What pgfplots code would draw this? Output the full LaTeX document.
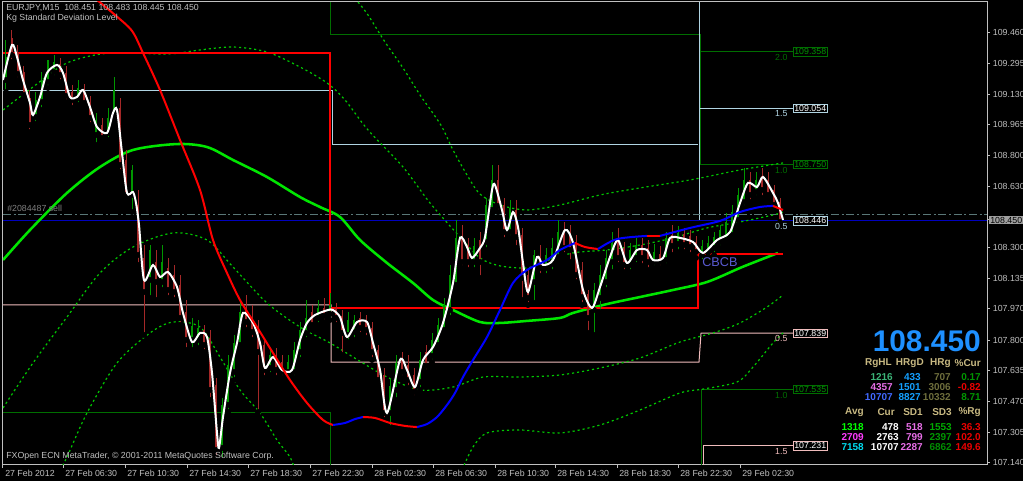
\documentclass[border=0pt]{standalone}
\usepackage{pgfplots}
\pgfplotsset{compat=1.18}
\usepackage{pgfplotstable}
\usepackage{fontspec}
\setmainfont{Liberation Sans}

\definecolor{mtgray}{RGB}{192,192,192}
\definecolor{lvblue}{RGB}{176,212,226}
\definecolor{lvpink}{RGB}{240,188,188}
\definecolor{lvgreen}{RGB}{0,110,0}
\definecolor{cG}{RGB}{0,150,0}
\definecolor{cR}{RGB}{165,40,40}
\definecolor{band}{RGB}{0,200,0}
\definecolor{midg}{RGB}{0,230,0}
\definecolor{navyline}{RGB}{0,0,190}
\definecolor{dashdot}{RGB}{90,120,120}
\definecolor{bignum}{RGB}{30,144,255}
\definecolor{tanhd}{RGB}{200,185,130}
\definecolor{olivegr}{RGB}{110,110,60}
\definecolor{pgreen}{RGB}{0,150,0}
\definecolor{pred}{RGB}{235,0,0}
\definecolor{pviolet}{RGB}{230,110,230}
\definecolor{psky}{RGB}{20,160,255}
\definecolor{cbcb}{RGB}{90,90,210}

\newcommand\fs{\fontsize{6.6}{7.8}\selectfont}
\newcommand\fp{\fontsize{7.5}{9}\selectfont\bfseries}

% candles: x, low, high, body bottom, body top
\pgfplotstableread{
x lo hi bot top
6 109.141 109.422 109.206 109.330
36 108.968 109.141 109.006 109.098
42 109.044 109.249 109.087 109.206
48 109.163 109.314 109.195 109.271
54 109.217 109.341 109.249 109.303
78 109.071 109.206 109.109 109.163
96 108.855 109.028 108.909 108.990
108 108.882 109.055 108.920 109.001
114 108.990 109.222 109.017 109.152
132 108.493 108.747 108.585 108.720
150 108.029 108.315 108.126 108.288
162 108.072 108.315 108.115 108.223
192 107.748 107.921 107.802 107.878
198 107.759 107.910 107.802 107.867
222 107.154 107.489 107.219 107.451
228 107.413 107.721 107.451 107.667
234 107.586 107.829 107.629 107.786
240 107.748 108.018 107.775 107.953
270 107.613 107.759 107.651 107.721
288 107.597 107.721 107.629 107.683
294 107.597 107.791 107.629 107.748
300 107.694 107.899 107.737 107.856
306 107.802 108.018 107.840 107.921
318 107.883 108.018 107.921 107.975
330 107.910 108.056 107.942 107.991
348 107.791 107.953 107.829 107.910
354 107.802 107.937 107.845 107.910
390 107.327 107.597 107.408 107.554
396 107.478 107.721 107.532 107.678
420 107.532 107.737 107.575 107.694
432 107.683 107.840 107.716 107.802
438 107.748 107.921 107.775 107.883
444 107.829 108.029 107.856 107.991
450 107.921 108.207 107.964 108.153
456 108.072 108.450 108.099 108.353
474 108.180 108.353 108.223 108.310
486 108.288 108.569 108.331 108.531
492 108.477 108.747 108.504 108.666
510 108.353 108.558 108.385 108.515
534 108.002 108.288 108.115 108.261
546 108.148 108.299 108.191 108.261
552 108.169 108.353 108.212 108.299
558 108.223 108.450 108.250 108.385
594 107.829 108.110 107.964 108.072
600 107.953 108.207 108.029 108.153
606 108.072 108.288 108.115 108.245
612 108.169 108.385 108.223 108.326
630 108.169 108.326 108.207 108.288
636 108.207 108.353 108.245 108.315
654 108.191 108.320 108.223 108.277
666 108.202 108.385 108.234 108.353
678 108.277 108.418 108.320 108.380
702 108.223 108.342 108.261 108.310
708 108.245 108.364 108.272 108.326
714 108.261 108.385 108.299 108.358
720 108.299 108.423 108.331 108.396
726 108.315 108.488 108.342 108.439
732 108.342 108.531 108.369 108.493
738 108.423 108.623 108.450 108.585
744 108.515 108.731 108.547 108.666
756 108.569 108.709 108.601 108.666
}\candG

\pgfplotstableread{
x lo hi bot top
12 109.303 109.476 109.341 109.433
18 109.206 109.395 109.238 109.357
24 109.098 109.282 109.125 109.249
30 108.925 109.152 108.963 109.109
60 109.195 109.325 109.233 109.292
66 109.087 109.282 109.120 109.244
72 109.055 109.179 109.098 109.141
84 109.055 109.184 109.082 109.152
90 108.963 109.120 109.001 109.087
102 108.866 109.001 108.893 108.963
120 108.709 109.109 108.747 109.055
126 108.558 108.828 108.585 108.774
138 108.207 108.612 108.261 108.531
144 107.829 108.315 108.061 108.245
156 108.018 108.288 108.115 108.223
168 108.029 108.245 108.072 108.191
174 108.018 108.207 108.061 108.153
180 107.883 108.153 107.921 108.099
186 107.748 108.018 107.802 107.953
204 107.737 107.883 107.775 107.856
210 107.478 107.856 107.532 107.813
216 107.165 107.597 107.208 107.559
246 107.856 108.045 107.899 107.964
252 107.802 107.991 107.845 107.921
258 107.413 107.910 107.737 107.856
264 107.597 107.802 107.640 107.775
276 107.597 107.759 107.640 107.721
282 107.597 107.721 107.629 107.683
312 107.856 107.991 107.883 107.953
324 107.899 108.029 107.932 107.975
336 107.883 108.002 107.921 107.975
342 107.721 107.964 107.840 107.932
360 107.829 107.953 107.867 107.921
366 107.813 107.937 107.856 107.910
372 107.694 107.899 107.737 107.867
378 107.559 107.775 107.586 107.748
384 107.370 107.651 107.408 107.613
402 107.597 107.737 107.629 107.694
408 107.543 107.721 107.586 107.667
414 107.489 107.651 107.521 107.613
426 107.629 107.775 107.662 107.737
462 108.191 108.423 108.223 108.364
468 108.180 108.353 108.223 108.315
480 108.137 108.385 108.223 108.342
498 108.493 108.747 108.526 108.666
504 108.342 108.569 108.385 108.531
516 108.299 108.558 108.358 108.504
522 108.018 108.407 108.137 108.369
528 107.991 108.191 108.029 108.153
540 108.148 108.315 108.191 108.256
564 108.261 108.439 108.299 108.396
570 108.223 108.423 108.288 108.385
576 108.115 108.369 108.153 108.331
582 107.991 108.223 108.034 108.180
588 107.840 108.072 107.921 108.050
618 108.207 108.407 108.245 108.353
624 108.169 108.331 108.207 108.299
642 108.202 108.353 108.245 108.315
648 108.180 108.342 108.223 108.299
660 108.191 108.310 108.223 108.266
672 108.261 108.423 108.310 108.369
684 108.277 108.407 108.315 108.374
690 108.261 108.396 108.304 108.364
696 108.245 108.364 108.277 108.331
750 108.547 108.709 108.585 108.666
762 108.569 108.731 108.612 108.688
768 108.558 108.709 108.585 108.666
774 108.504 108.639 108.531 108.612
780 108.418 108.569 108.439 108.547
}\candR

\begin{document}
\begin{tikzpicture}
\useasboundingbox (-2.25pt,-12pt) rectangle (765pt,348.75pt);
\fill[black] (-2.25pt,-12pt) rectangle (765pt,348.75pt);
\begin{axis}[
  scale only axis, width=738pt, height=347.25pt,
  xmin=3, xmax=987, ymin=107.127, ymax=109.627,
  clip mode=individual,
  axis line style={draw=mtgray, line width=0.75pt},
  tick style={draw=mtgray, line width=0.75pt},
  tick align=outside, major tick length=2.25pt,
  xtick pos=left, ytick pos=right, yticklabel pos=right,
  xtick={3,63,125,187,248,310,372,433,495,555,617,678,740},
  xticklabels={27 Feb 2012,27 Feb 06:30,27 Feb 10:30,27 Feb 14:30,27 Feb 18:30,27 Feb 22:30,28 Feb 02:30,28 Feb 06:30,28 Feb 10:30,28 Feb 14:30,28 Feb 18:30,28 Feb 22:30,29 Feb 02:30},
  ytick={109.460,109.295,109.130,108.965,108.800,108.630,108.450,108.300,108.135,107.970,107.800,107.635,107.470,107.305,107.140},
  yticklabels={109.460,109.295,109.130,108.965,108.800,108.630,,108.300,108.135,107.970,107.800,107.635,107.470,107.305,107.140},
  ticklabel style={font=\fs, text=mtgray},
  xticklabel style={anchor=north west, inner sep=0pt, xshift=1.5pt, yshift=-1.5pt},
  yticklabel style={anchor=west, inner sep=0pt, xshift=2pt},
  lv/.style={no marks, line width=0.75pt, forget plot},
  bandl/.style={no marks, smooth, tension=0.5, line width=0.9pt, draw=band, dash pattern=on 1.6pt off 2.2pt, forget plot},
]
% level step lines
\addplot[lv, draw=lvgreen] coordinates {(3,107.408)(330,107.408)(330,107.127)};
\addplot[lv, draw=lvgreen] coordinates {(330,109.627)(330,109.449)(700,109.449)(700,108.750)(793,108.750)};
\addplot[lv, draw=lvgreen] coordinates {(700,109.358)(793,109.358)};
\addplot[lv, draw=lvgreen] coordinates {(793,107.535)(701,107.535)(701,107.127)};
\addplot[lv, draw=lvblue] coordinates {(3,109.147)(332,109.147)(332,108.855)(698,108.855)};
\addplot[lv, draw=lvblue] coordinates {(699,109.627)(699,108.446)(793,108.446)};
\addplot[lv, draw=lvblue] coordinates {(699,109.054)(793,109.054)};
\addplot[lv, draw=lvpink] coordinates {(3,107.991)(331,107.991)(331,107.683)(699,107.683)(701,107.839)(793,107.839)};
\addplot[lv, draw=lvpink] coordinates {(703,107.127)(703,107.231)(793,107.231)};
% order lines
\addplot[lv, draw=dashdot, dash pattern=on 6pt off 2pt on 1.5pt off 2pt] coordinates {(3,108.482)(987,108.482)};
\addplot[lv, draw=navyline] coordinates {(3,108.445)(987,108.445)};
% deviation bands
\addplot[bandl] coordinates {(3,109.044)(33,109.168)(67,109.298)(110,109.352)(167,109.346)(200,109.368)(233,109.384)(267,109.357)(300,109.276)(327,109.190)(345,109.098)(368,108.936)(403,108.736)(430,108.542)(460,108.358)(480,108.245)(500,108.202)(527,108.191)(540,108.218)(573,108.272)(607,108.288)(640,108.315)(673,108.353)(707,108.407)(740,108.439)(773,108.477)(783,108.493)};
\addplot[bandl] coordinates {(358,109.627)(368,109.557)(385,109.411)(403,109.271)(420,109.125)(430,109.049)(442,108.952)(453,108.828)(467,108.693)(480,108.590)(500,108.531)(527,108.504)(560,108.531)(600,108.585)(640,108.623)(690,108.666)(740,108.720)(783,108.758)};
\addplot[bandl] coordinates {(3,107.435)(33,107.678)(67,107.926)(100,108.164)(133,108.304)(173,108.380)(207,108.342)(233,108.196)(267,108.002)(300,107.872)(330,107.786)(353,107.710)(387,107.602)(420,107.532)(453,107.548)(483,107.602)(520,107.602)(560,107.613)(600,107.651)(640,107.705)(680,107.791)(713,107.840)(740,107.894)(767,107.980)(783,108.045)};
\addplot[bandl] coordinates {(60,107.100)(67,107.170)(87,107.408)(117,107.678)(150,107.840)(173,107.899)(200,107.872)(220,107.710)(240,107.532)(260,107.408)(277,107.262)(290,107.170)(295,107.100)};
\addplot[bandl] coordinates {(462,107.100)(473,107.224)(487,107.300)(520,107.316)(560,107.300)(600,107.343)(640,107.424)(680,107.516)(703,107.537)(737,107.575)(753,107.656)(773,107.786)(783,107.840)};
% regression line
\addplot[no marks, smooth, tension=0.5, draw=midg, line width=1.9pt, forget plot] coordinates {(3,108.234)(30,108.396)(67,108.596)(100,108.736)(133,108.828)(177,108.860)(207,108.844)(233,108.774)(267,108.682)(300,108.574)(320,108.520)(340,108.466)(360,108.342)(387,108.218)(413,108.110)(433,108.018)(453,107.964)(480,107.899)(500,107.894)(527,107.905)(560,107.921)(573,107.948)(607,107.996)(640,108.034)(673,108.072)(707,108.115)(740,108.191)(760,108.234)(778,108.272)};
% range box
\addplot[no marks, draw=red, line width=1.5pt, forget plot] coordinates {(3,109.352)(330,109.352)(330,107.975)(698,107.975)(698,108.266)(783,108.266)};
% candles
\addplot[only marks, mark=none, forget plot, error bars/.cd, y dir=plus, y explicit, error mark=none, error bar style={draw=cG, line width=0.75pt}] table[x=x, y=lo, y error plus expr=\thisrow{hi}-\thisrow{lo}] {\candG};
\addplot[only marks, mark=none, forget plot, error bars/.cd, y dir=plus, y explicit, error mark=none, error bar style={draw=cG, line width=1.5pt}] table[x=x, y=bot, y error plus expr=\thisrow{top}-\thisrow{bot}] {\candG};
\addplot[only marks, mark=none, forget plot, error bars/.cd, y dir=plus, y explicit, error mark=none, error bar style={draw=cR, line width=0.75pt}] table[x=x, y=lo, y error plus expr=\thisrow{hi}-\thisrow{lo}] {\candR};
\addplot[only marks, mark=none, forget plot, error bars/.cd, y dir=plus, y explicit, error mark=none, error bar style={draw=cR, line width=1.5pt}] table[x=x, y=bot, y error plus expr=\thisrow{top}-\thisrow{bot}] {\candR};
% smoothed close
\addplot[no marks, smooth, tension=0.45, draw=white, line width=1.5pt, forget plot] coordinates {(3,109.206)(12,109.395)(17,109.330)(23,109.206)(30,109.082)(33,109.017)(40,109.114)(47,109.244)(57,109.287)(63,109.244)(70,109.114)(77,109.114)(83,109.152)(90,109.060)(97,108.952)(107,108.920)(113,109.028)(117,109.044)(122,108.812)(127,108.596)(133,108.601)(136,108.542)(139,108.423)(144,108.126)(153,108.207)(160,108.142)(168,108.169)(177,108.088)(183,107.948)(192,107.791)(200,107.840)(207,107.818)(212,107.624)(217,107.300)(219,107.219)(223,107.386)(230,107.624)(237,107.786)(243,107.948)(253,107.894)(260,107.786)(265,107.651)(273,107.710)(282,107.640)(292,107.640)(300,107.802)(307,107.894)(315,107.937)(328,107.964)(333,107.964)(340,107.926)(347,107.818)(357,107.899)(367,107.899)(373,107.786)(380,107.640)(387,107.408)(400,107.694)(407,107.640)(415,107.548)(423,107.694)(433,107.764)(443,107.894)(453,108.110)(460,108.353)(467,108.304)(472,108.245)(480,108.299)(485,108.358)(492,108.612)(495,108.639)(502,108.504)(507,108.396)(513,108.493)(518,108.412)(523,108.218)(528,108.061)(537,108.250)(543,108.207)(553,108.234)(565,108.396)(573,108.326)(583,108.072)(592,107.975)(600,108.088)(610,108.250)(618,108.342)(627,108.218)(637,108.288)(647,108.288)(653,108.234)(663,108.245)(670,108.353)(680,108.353)(693,108.331)(703,108.272)(717,108.342)(730,108.385)(740,108.542)(748,108.650)(757,108.628)(763,108.682)(773,108.596)(778,108.542)(783,108.450)};
% trend curve, red falling / blue rising
\addplot[no marks, smooth, draw=red, line width=1.5pt, forget plot] coordinates {(97,109.638)(115,109.557)(132,109.471)(143,109.352)(160,109.152)(180,108.882)(200,108.612)(213,108.342)(227,108.164)(240,108.018)(257,107.872)(273,107.732)(290,107.586)(307,107.462)(323,107.370)(333,107.343)};
\addplot[no marks, smooth, draw=blue, line width=1.5pt, forget plot] coordinates {(333,107.343)(345,107.354)(355,107.375)(363,107.386)};
\addplot[no marks, smooth, draw=red, line width=1.5pt, forget plot] coordinates {(363,107.386)(375,107.381)(390,107.354)(405,107.338)(417,107.332)};
\addplot[no marks, smooth, draw=blue, line width=1.5pt, forget plot] coordinates {(417,107.332)(427,107.348)(437,107.386)(447,107.451)(455,107.516)(463,107.602)(473,107.694)(487,107.818)(500,107.964)(513,108.110)(527,108.180)(547,108.234)(560,108.288)(575,108.326)};
\addplot[no marks, smooth, draw=red, line width=1.5pt, forget plot] coordinates {(575,108.326)(585,108.304)(598,108.293)};
\addplot[no marks, smooth, draw=blue, line width=1.5pt, forget plot] coordinates {(598,108.293)(617,108.347)(647,108.364)};
\addplot[no marks, draw=red, line width=1.5pt, forget plot] coordinates {(647,108.364)(660,108.364)};
\addplot[no marks, smooth, draw=blue, line width=1.5pt, forget plot] coordinates {(660,108.364)(690,108.407)(720,108.445)(740,108.493)(760,108.520)(773,108.526)};
\addplot[no marks, draw=red, line width=1.5pt, forget plot] coordinates {(773,108.526)(783,108.504)};

% texts
\node[anchor=west, inner sep=0pt, font=\fs, text=mtgray] at (axis cs:6,109.595) {EURJPY,M15\ \ 108.451 108.483 108.445 108.450};
\node[anchor=west, inner sep=0pt, font=\fs, text=mtgray] at (axis cs:6,109.541) {Kg Standard Deviation Level};
\node[anchor=west, inner sep=0pt, font=\fs, text=gray] at (axis cs:7,108.515) {\#2084487 sell};
\node[anchor=west, inner sep=0pt, font=\fs, text=mtgray] at (axis cs:6,107.176) {FXOpen ECN MetaTrader, © 2001-2011 MetaQuotes Software Corp.};
\node[anchor=west, inner sep=0pt, font=\fontsize{9.5}{11}\selectfont, text=cbcb] at (axis cs:702,108.223) {CBCB};

% level boxes
\node[anchor=west, draw=lvgreen, fill=black, text=pgreen, inner sep=0.8pt, font=\fs] at (axis cs:793,109.358) {109.358};
\node[anchor=west, draw=lvblue, fill=black, text=white, inner sep=0.8pt, font=\fs] at (axis cs:793,109.054) {109.054};
\node[anchor=west, draw=lvgreen, fill=black, text=pgreen, inner sep=0.8pt, font=\fs] at (axis cs:793,108.750) {108.750};
\node[anchor=west, draw=lvblue, fill=black, text=white, inner sep=0.8pt, font=\fs] at (axis cs:793,108.446) {108.446};
\node[anchor=west, draw=lvpink, fill=black, text=white, inner sep=0.8pt, font=\fs] at (axis cs:793,107.839) {107.839};
\node[anchor=west, draw=lvgreen, fill=black, text=pgreen, inner sep=0.8pt, font=\fs] at (axis cs:793,107.535) {107.535};
\node[anchor=west, draw=lvpink, fill=black, text=white, inner sep=0.8pt, font=\fs] at (axis cs:793,107.231) {107.231};
\node[anchor=north east, inner sep=1pt, font=\fs, text=lvgreen] at (axis cs:789,109.352) {2.0};
\node[anchor=north east, inner sep=1pt, font=\fs, text=lvblue] at (axis cs:789,109.048) {1.5};
\node[anchor=north east, inner sep=1pt, font=\fs, text=lvgreen] at (axis cs:789,108.744) {1.0};
\node[anchor=north east, inner sep=1pt, font=\fs, text=lvblue] at (axis cs:789,108.440) {0.5};
\node[anchor=north east, inner sep=1pt, font=\fs, text=lvpink] at (axis cs:789,107.833) {0.5};
\node[anchor=north east, inner sep=1pt, font=\fs, text=lvgreen] at (axis cs:789,107.529) {1.0};
\node[anchor=north east, inner sep=1pt, font=\fs, text=lvpink] at (axis cs:789,107.225) {1.5};
% current price on the scale
\node[anchor=west, fill=gray!75, text=black, inner sep=0.8pt, font=\fs] at (axis cs:989,108.450) {108.450};

% info panel
\node[anchor=east, inner sep=0pt, font=\fontsize{22.4}{24}\selectfont\bfseries, text=bignum] at (axis cs:981,107.797) {108.450};
\begin{scope}[every node/.style={anchor=east, inner sep=0pt, font=\fp}]
\node[text=tanhd] at (axis cs:892,107.678) {RgHL};
\node[text=tanhd] at (axis cs:924,107.678) {HRgD};
\node[text=tanhd] at (axis cs:951,107.678) {HRg};
\node[text=tanhd] at (axis cs:981,107.678) {\%Cur};
\node[text={rgb,255:red,60;green,180;blue,120}] at (axis cs:893,107.602) {1216};
\node[text=psky] at (axis cs:921,107.602) {433};
\node[text=olivegr] at (axis cs:951,107.602) {707};
\node[text=pgreen] at (axis cs:981,107.602) {0.17};
\node[text=pviolet] at (axis cs:893,107.548) {4357};
\node[text=psky] at (axis cs:921,107.548) {1501};
\node[text=olivegr] at (axis cs:951,107.548) {3006};
\node[text=pred] at (axis cs:981,107.548) {-0.82};
\node[text={rgb,255:red,65;green,105;blue,255}] at (axis cs:893,107.494) {10707};
\node[text=psky] at (axis cs:921,107.494) {8827};
\node[text=olivegr] at (axis cs:951,107.494) {10332};
\node[text=pgreen] at (axis cs:981,107.494) {8.71};
\node[text=tanhd] at (axis cs:864,107.413) {Avg};
\node[text=tanhd] at (axis cs:895,107.413) {Cur};
\node[text=tanhd] at (axis cs:923,107.413) {SD1};
\node[text=tanhd] at (axis cs:952,107.413) {SD3};
\node[text=tanhd] at (axis cs:981,107.413) {\%Rg};
\node[text={rgb,255:red,0;green,255;blue,0}] at (axis cs:864,107.332) {1318};
\node[text=white] at (axis cs:899,107.332) {478};
\node[text=pviolet] at (axis cs:923,107.332) {518};
\node[text={rgb,255:red,0;green,170;blue,0}] at (axis cs:952,107.332) {1553};
\node[text=pred] at (axis cs:981,107.332) {36.3};
\node[text={rgb,255:red,255;green,60;blue,255}] at (axis cs:864,107.278) {2709};
\node[text=white] at (axis cs:899,107.278) {2763};
\node[text=pviolet] at (axis cs:923,107.278) {799};
\node[text=pgreen] at (axis cs:952,107.278) {2397};
\node[text=pred] at (axis cs:981,107.278) {102.0};
\node[text={rgb,255:red,0;green,220;blue,240}] at (axis cs:864,107.224) {7158};
\node[text=white] at (axis cs:899,107.224) {10707};
\node[text=pviolet] at (axis cs:923,107.224) {2287};
\node[text={rgb,255:red,0;green,140;blue,0}] at (axis cs:952,107.224) {6862};
\node[text=pred] at (axis cs:981,107.224) {149.6};
\end{scope}
\end{axis}
\end{tikzpicture}
\end{document}
